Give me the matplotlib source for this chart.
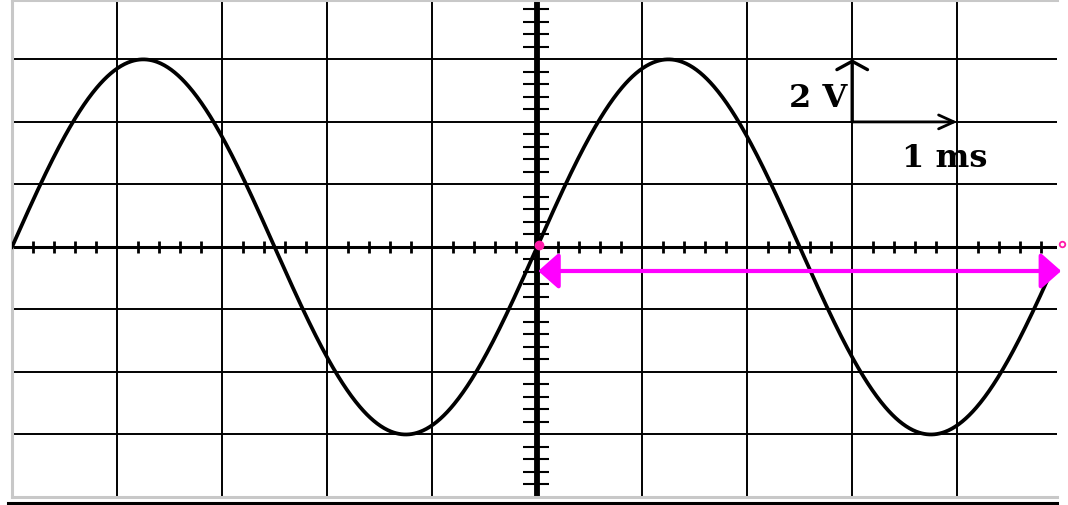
import matplotlib
matplotlib.use("Agg")
import matplotlib.pyplot as plt
import numpy as np

# values: 2 V/div, 1 ms/div
AMPLITUDE_V = 6.0        # peak = 3 divisions
PERIOD_MS = 5.0          # 5 divisions per cycle
T_START, T_END = -5.0, 4.88
X_DIVS = [-5, -4, -3, -2, -1, 0, 1, 2, 3, 4]
Y_DIVS = [-8, -6, -4, -2, 0, 2, 4, 6]
SUBDIV_T = 0.2           # ms per minor tick on time axis
SUBDIV_V = 0.4           # V per minor tick on voltage axis
MARK_V = -0.77           # level of the pink period arrow
SCALE_T = (3.0, 4.0)     # 1 ms scale bar
SCALE_V = (4.0, 6.0)     # 2 V scale bar

t = np.linspace(T_START, T_END, 1200)
u = AMPLITUDE_V * np.sin(2 * np.pi * t / PERIOD_MS)

fig = plt.figure(figsize=(10.68, 5.06), dpi=100)
ax = fig.add_axes([12 / 1068, 8 / 506, 1045 / 1068, 497 / 506])
ax.set_xlim(-5.0, 4.95)
ax.set_ylim(-8.0, 7.9)

ax.set_xticks(X_DIVS)
ax.set_yticks(Y_DIVS)
ax.tick_params(length=0, labelbottom=False, labelleft=False)
ax.grid(color="black", linewidth=1.4)
for side in ["left", "top", "bottom"]:
    ax.spines[side].set_color("#c8c8c8")
    ax.spines[side].set_linewidth(2.2)
ax.spines["right"].set_visible(False)
ax.plot([-0.004, 1.0], [-0.012, -0.012], transform=ax.transAxes,
        color="black", lw=2.2, clip_on=False)

# centre axes with graduations
ax.axhline(0, color="black", lw=2.2)
ax.axvline(0, color="black", lw=4.2)
tx = np.arange(-5.0, 5.0, SUBDIV_T)
tx = tx[np.abs(tx - np.round(tx)) > 1e-6]
ax.vlines(tx, -0.2, 0.2, color="black", lw=2.0)
vy = np.arange(-8.0, 8.0, SUBDIV_V)
vy = vy[np.abs(vy / 2 - np.round(vy / 2)) > 1e-6]
ax.hlines(vy, -0.13, 0.11, color="black", lw=1.5)

ax.plot(t, u, color="black", lw=2.7, zorder=3)

# period marker
ax.annotate("", xy=(4.99, MARK_V), xytext=(0.01, MARK_V),
            arrowprops=dict(arrowstyle="<|-|>,head_length=1.25,head_width=1.1",
                            mutation_scale=10, color="#ff00ff", lw=3,
                            shrinkA=0, shrinkB=0),
            annotation_clip=False, zorder=4)
ax.plot([0.02], [0.05], "o", ms=6, color="#ff1aa8", zorder=5)
ax.plot([5.0], [0.1], "o", ms=4, mfc="white", mec="#ff1aa8", mew=1.3,
        clip_on=False, zorder=5)

# scale bars
ax.annotate("", xy=(SCALE_T[0], SCALE_V[1]), xytext=(SCALE_T[0], SCALE_V[0]),
            arrowprops=dict(arrowstyle="->,head_length=0.6,head_width=1.1",
                            mutation_scale=10, color="black", lw=2.4,
                            shrinkA=0, shrinkB=0))
ax.annotate("", xy=(SCALE_T[1], SCALE_V[0]), xytext=(SCALE_T[0], SCALE_V[0]),
            arrowprops=dict(arrowstyle="->,head_length=1.1,head_width=0.5",
                            mutation_scale=10, color="black", lw=2.0,
                            shrinkA=0, shrinkB=0))
ax.text(2.68, 4.51, "2 V", ha="center", va="baseline", fontsize=23,
        fontweight="bold", family="DejaVu Serif")
ax.text(3.88, 2.59, "1 ms", ha="center", va="baseline", fontsize=23,
        fontweight="bold", family="DejaVu Serif")

fig.savefig("out.png", dpi=100, facecolor="white")
